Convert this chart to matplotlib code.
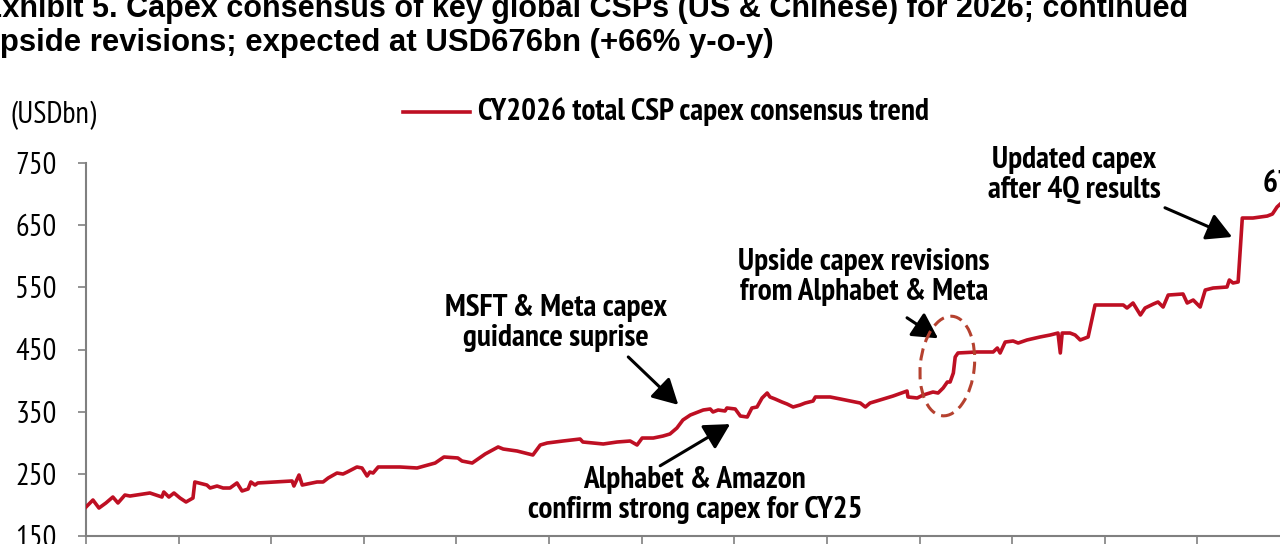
import numpy as np
import matplotlib
matplotlib.use('Agg')
import matplotlib.pyplot as plt
from matplotlib.lines import Line2D
from matplotlib.patches import Ellipse
from matplotlib.transforms import IdentityTransform

# months since start of series (ticks every 2 months) and USDbn
months = [0.00, 0.15, 0.28, 0.43, 0.58, 0.69, 0.84, 0.95, 1.38, 1.64, 1.68, 1.79, 1.90, 2.03,
          2.16, 2.31, 2.35, 2.61, 2.68, 2.83, 2.96, 3.11, 3.26, 3.37, 3.50, 3.56, 3.65, 3.71,
          4.45, 4.49, 4.60, 4.67, 4.99, 5.12, 5.23, 5.42, 5.55, 5.64, 5.85, 5.96, 6.07, 6.13,
          6.20, 6.31, 6.78, 7.15, 7.54, 7.73, 8.03, 8.12, 8.34, 8.62, 8.90, 9.01, 9.31, 9.48,
          9.65, 9.81, 9.96, 10.30, 10.67, 10.73, 10.95, 11.17, 11.47, 11.75, 11.90, 12.01,
          12.25, 12.46, 12.61, 12.76, 12.89, 13.05, 13.33, 13.48, 13.54, 13.65, 13.80, 13.84,
          14.02, 14.13, 14.28, 14.38, 14.49, 14.60, 14.71, 14.77, 14.88, 15.03, 15.14, 15.27,
          15.42, 15.53, 15.70, 15.75, 16.07, 16.29, 16.72, 16.83, 16.93, 17.15, 17.43, 17.73,
          17.75, 17.95, 18.08, 18.29, 18.40, 18.51, 18.60, 18.66, 18.73, 18.77, 18.83, 19.24,
          19.59, 19.68, 19.74, 19.85, 20.02, 20.13, 20.32, 20.60, 20.82, 20.99, 21.04, 21.08,
          21.25, 21.36, 21.47, 21.64, 21.79, 21.90, 22.40, 22.48, 22.61, 22.77, 22.87, 23.05,
          23.15, 23.26, 23.37, 23.69, 23.78, 23.91, 24.06, 24.17, 24.34, 24.64, 24.69, 24.77,
          24.88, 24.97, 25.20, 25.51, 25.62, 25.72, 25.79]
capex = [196.6, 207.9, 195.0, 203.1, 212.7, 203.1, 215.9, 214.3, 219.2, 212.7, 220.8, 212.7, 219.2, 211.1,
         204.7, 211.1, 236.9, 232.0, 227.2, 230.4, 227.2, 227.2, 235.3, 222.4, 225.6, 236.9, 232.0, 235.3,
         238.5, 230.4, 248.1, 232.0, 236.9, 236.9, 243.3, 251.3, 249.7, 252.9, 261.0, 259.4, 246.5, 252.9,
         251.3, 261.0, 261.0, 259.4, 267.4, 277.1, 275.5, 270.6, 267.4, 281.9, 293.2, 289.9, 286.7, 283.5,
         280.3, 296.4, 299.6, 302.8, 306.0, 301.2, 299.6, 298.0, 301.2, 302.8, 296.4, 307.6,
         307.6, 310.8, 314.1, 323.7, 336.6, 344.6, 352.7, 354.3, 349.5, 352.7, 351.1, 355.9,
         354.3, 343.0, 341.4, 355.9, 357.5, 372.0, 380.0, 373.6, 370.4, 365.5, 362.3, 357.5,
         360.7, 363.9, 367.1, 373.6, 373.6, 370.4, 363.9, 357.5, 363.9, 368.8, 375.2, 383.2,
         373.6, 372.0, 376.8, 381.6, 380.0, 388.1, 397.7, 397.7, 412.2, 437.9, 444.4, 446.0,
         446.0, 452.4, 444.4, 462.0, 463.7, 460.4, 465.3, 470.1, 473.3, 476.5, 444.4, 476.5,
         476.5, 473.3, 465.3, 470.1, 521.6, 521.6, 521.6, 516.7, 524.8, 505.5, 516.7, 523.2,
         526.4, 518.3, 537.6, 539.3, 524.8, 529.6, 518.3, 545.7, 548.9, 550.5, 561.8, 557.0,
         558.6, 661.5, 661.5, 664.7, 667.9, 679.2, 684.0]

yticks = [150, 250, 350, 450, 550, 650, 750]
title1 = 'Exhibit 5. Capex consensus of key global CSPs (US & Chinese) for 2026; continued'
title2 = 'upside revisions; expected at USD676bn (+66% y-o-y)'
series_name = 'CY2026 total CSP capex consensus trend'
last_label = '676'

RED = '#BE0F23'
GREY = '#808080'
# condensed face for chart text, Arial-like for the title
plt.rcParams['font.family'] = ['PT Sans Narrow', 'Liberation Sans', 'DejaVu Sans']
FS = 22      # regular chart text
FSB = 22.5   # bold chart text

fig = plt.figure(figsize=(12.8, 5.44), dpi=100)
W, H = 1280., 544.
# axes runs past the right edge, like the cropped source
ax = fig.add_axes([86/W, 8/H, (1290-86)/W, (536-163)/H])
ax.plot(months, capex, color=RED, lw=2.6, solid_joinstyle='round', zorder=3)
ax.set_xlim(0, 26)
ax.set_ylim(150, 750)
ax.set_yticks(yticks)
ax.set_xticks(np.arange(0, 27, 2))
ax.set_xticklabels([])
for s in ['top', 'right']:
    ax.spines[s].set_visible(False)
for s in ['left', 'bottom']:
    ax.spines[s].set_color(GREY)
    ax.spines[s].set_linewidth(1.5)
ax.tick_params(axis='both', colors=GREY, width=1.2, length=6, direction='out')
ax.tick_params(axis='y', labelcolor='black', labelsize=FS, pad=15)

# title (cropped on the left in the source)
tfont = dict(family=['Liberation Sans', 'DejaVu Sans'], fontweight='bold')
fig.text(-18/W, 1-17/H, title1, ha='left', va='baseline', fontsize=22, **tfont)
fig.text(-19/W, 1-51/H, title2, ha='left', va='baseline', fontsize=22.4, **tfont)

# unit + legend
fig.text(10/W, 1-115/H, '(USDbn)', ha='left', va='center', fontsize=FS)
fig.add_artist(Line2D([403/W, 470/W], [1-112/H, 1-112/H], color=RED, lw=2.6))
fig.text(478/W, 1-112/H, series_name, ha='left', va='center', fontsize=FSB, fontweight='bold')

# annotations
afont = dict(fontsize=FSB, fontweight='bold', ha='center', va='center', linespacing=1.1)
aprops = dict(arrowstyle='-|>,head_length=0.55,head_width=0.3', color='black', lw=2.2,
              mutation_scale=28, shrinkA=0, shrinkB=0)
ax.annotate('Updated capex\nafter 4Q results', xy=(24.75, 631), xytext=(21.34, 731), **afont)
ax.annotate('', xy=(24.75, 631), xytext=(23.30, 678), arrowprops=aprops)
ax.annotate('Upside capex revisions\nfrom Alphabet & Meta', xy=(18.4, 468), xytext=(16.80, 567), **afont)
ax.annotate('', xy=(18.40, 468), xytext=(17.73, 501), arrowprops=aprops)
ax.annotate('MSFT & Meta capex\nguidance suprise', xy=(12.79, 361), xytext=(10.15, 493), **afont)
ax.annotate('', xy=(12.79, 361), xytext=(11.71, 438), arrowprops=aprops)
ax.annotate('Alphabet & Amazon\nconfirm strong capex for CY25', xy=(13.91, 330), xytext=(13.15, 216), **afont)
ax.annotate('', xy=(13.91, 330), xytext=(12.40, 263), arrowprops=aprops)
ax.text(25.40, 716, last_label, fontsize=FSB, fontweight='bold', ha='left', va='center')

# dashed ellipse around the revision jump, drawn in pixel space
cx, cy = ax.transData.transform((18.60, 423.4))
ell = Ellipse((cx, cy), 54, 100, angle=-6, transform=IdentityTransform(), fill=False,
              edgecolor='#B5412F', lw=2.2, linestyle=(0, (4, 2.2)), zorder=4)
fig.add_artist(ell)

fig.savefig('out.png', dpi=100)
